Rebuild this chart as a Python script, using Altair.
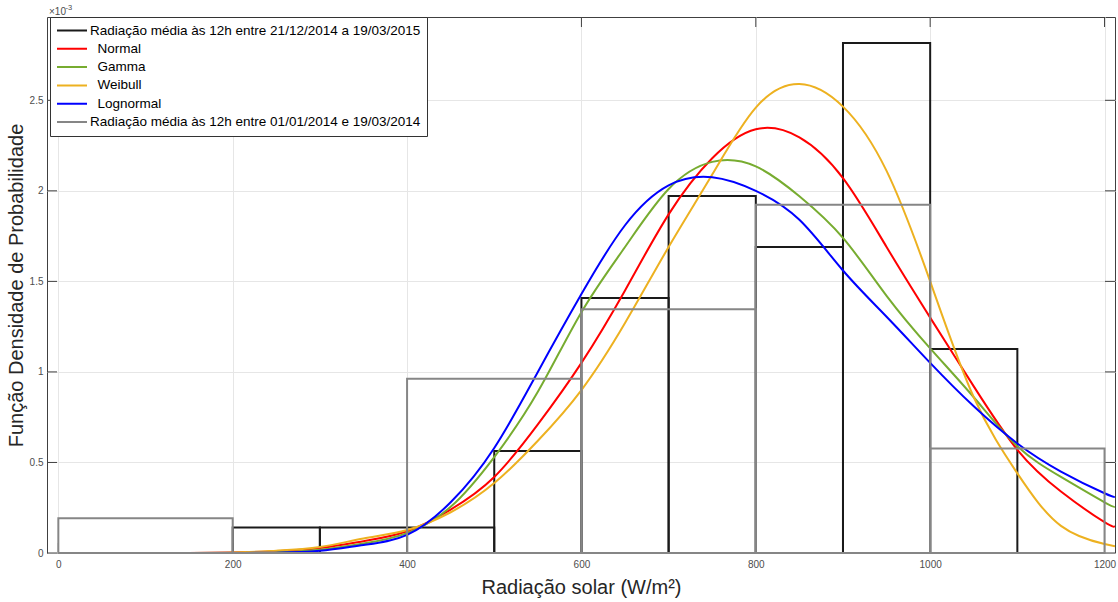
import altair as alt
import pandas as pd

# Densities are stored in units of 1e-3 (the axis carries the x10^-3 multiplier)

# Histogram, 21/12/2014 a 19/03/2015 (bins of 100 W/m2)
new_left = [200, 300, 400, 500, 600, 700, 800, 900, 1000]
new_right = [300, 400, 500, 600, 700, 800, 900, 1000, 1100]
new_density = [0.141, 0.141, 0.141, 0.563, 1.408, 1.972, 1.690, 2.817, 1.127]

# Histogram, 01/01/2014 e 19/03/2014 (bins of 200 W/m2)
old_left = [0, 200, 400, 600, 800, 1000]
old_right = [200, 400, 600, 800, 1000, 1200]
old_density = [0.192, 0.0, 0.962, 1.346, 1.923, 0.577]

# Fitted probability density curves
curve_x = [0, 50, 100, 150, 200, 250, 300, 350, 400, 450, 500, 550, 600,
           650, 700, 750, 800, 850, 900, 950, 1000, 1050, 1100, 1150, 1200, 1212]
normal_pdf = [0, 0, 0, 0, 0.003, 0.010, 0.027, 0.065, 0.120, 0.240, 0.420, 0.710, 1.050,
              1.450, 1.870, 2.180, 2.340, 2.295, 2.070, 1.690, 1.300, 0.920, 0.570, 0.340, 0.170, 0.150]
gamma_pdf = [0, 0, 0, 0, 0.001, 0.005, 0.018, 0.052, 0.110, 0.255, 0.530, 0.890, 1.330,
             1.690, 2.010, 2.160, 2.135, 1.970, 1.740, 1.420, 1.130, 0.860, 0.590, 0.420, 0.280, 0.255]
weibull_pdf = [0, 0, 0, 0, 0.002, 0.013, 0.033, 0.080, 0.127, 0.225, 0.386, 0.620, 0.900,
               1.270, 1.690, 2.090, 2.460, 2.590, 2.465, 2.110, 1.500, 0.860, 0.440, 0.150, 0.050, 0.037]
lognormal_pdf = [0, 0, 0, 0, 0, 0.002, 0.012, 0.044, 0.100, 0.280, 0.580, 1.000, 1.430,
                 1.810, 2.030, 2.075, 2.000, 1.840, 1.560, 1.305, 1.050, 0.810, 0.605, 0.450, 0.330, 0.310]

x_ticks = [0, 200, 400, 600, 800, 1000, 1200]
y_ticks = [0, 0.5, 1, 1.5, 2, 2.5]

# zero-width space keeps the indent of the fitted-curve labels from being trimmed
IND = "\u200b\u00a0\u00a0"
S_NEW = "Radiação média às 12h entre 21/12/2014 a 19/03/2015"
S_NORMAL = IND + "Normal"
S_GAMMA = IND + "Gamma"
S_WEIBULL = IND + "Weibull"
S_LOGN = IND + "Lognormal"
S_OLD = "Radiação média às 12h entre 01/01/2014 e 19/03/2014"
series_order = [S_NEW, S_NORMAL, S_GAMMA, S_WEIBULL, S_LOGN, S_OLD]
series_colors = ["#1a1a1a", "#ff0000", "#77ac30", "#edb120", "#0000ff", "#868686"]

hist_new = pd.DataFrame({"x0": new_left, "x1": new_right, "h": new_density, "serie": S_NEW})
hist_old = pd.DataFrame({"x0": old_left, "x1": old_right, "h": old_density, "serie": S_OLD})
curves = pd.concat([
    pd.DataFrame({"x0": curve_x, "h": vals, "serie": name})
    for name, vals in [(S_NORMAL, normal_pdf), (S_GAMMA, gamma_pdf),
                       (S_WEIBULL, weibull_pdf), (S_LOGN, lognormal_pdf)]
])
xt = pd.DataFrame({"x0": x_ticks})
yt = pd.DataFrame({"h": y_ticks})

W, H = 1068, 536
FONT = "Liberation Sans"

x_scale = alt.Scale(domain=[-13, 1212], nice=False, zero=False)
y_scale = alt.Scale(domain=[0, 2.96], nice=False, zero=False)
x_axis = alt.Axis(values=x_ticks, format="d", title="Radiação solar (W/m²)",
                  labelPadding=6, titlePadding=8)
y_axis = alt.Axis(values=y_ticks, format="~g", title="Função Densidade de Probabilidade",
                  labelPadding=4, titlePadding=3)


def X(field):
    return alt.X(f"{field}:Q", scale=x_scale, axis=x_axis)


def Y(field):
    return alt.Y(f"{field}:Q", scale=y_scale, axis=y_axis)


color = alt.Color(
    "serie:N",
    sort=series_order,
    scale=alt.Scale(domain=series_order, range=series_colors),
    legend=alt.Legend(
        orient="none", legendX=3, legendY=0, title=None,
        symbolType="stroke", symbolSize=900, symbolStrokeWidth=2,
        clipHeight=15, rowPadding=3.3, padding=6,
        labelFont=FONT, labelFontSize=13.5, labelColor="#000000",
        labelLimit=600, labelOffset=2,
        fillColor="white", strokeColor="#333333",
    ),
)

bars_new = alt.Chart(hist_new).mark_rect(filled=False, strokeWidth=2).encode(
    x=X("x0"), x2="x1:Q", y=Y("h"), y2=alt.datum(0), color=color
)
lines = alt.Chart(curves).mark_line(strokeWidth=2, interpolate="natural", clip=True).encode(
    x=X("x0"), y=Y("h"), color=color
)
bars_old = alt.Chart(hist_old).mark_rect(filled=False, strokeWidth=2).encode(
    x=X("x0"), x2="x1:Q", y=Y("h"), y2=alt.datum(0), color=color
)

TICK = 10
tick_col = "#404040"
ticks_left = alt.Chart(yt).mark_rule(color=tick_col).encode(
    y=Y("h"), x=alt.value(0), x2=alt.value(TICK))
ticks_right = alt.Chart(yt).mark_rule(color=tick_col).encode(
    y=Y("h"), x=alt.value(W - TICK), x2=alt.value(W))
ticks_bottom = alt.Chart(xt).mark_rule(color=tick_col).encode(
    x=X("x0"), y=alt.value(H), y2=alt.value(H - TICK))
ticks_top = alt.Chart(xt).mark_rule(color=tick_col).encode(
    x=X("x0"), y=alt.value(0), y2=alt.value(TICK))

mult = alt.Chart(pd.DataFrame({"t": ["×10"]})).mark_text(
    align="left", baseline="middle", fontSize=10, font=FONT, color="#4d4d4d"
).encode(text="t:N", x=alt.value(2), y=alt.value(-5))
mult_exp = alt.Chart(pd.DataFrame({"t": ["-3"]})).mark_text(
    align="left", baseline="middle", fontSize=7.5, font=FONT, color="#4d4d4d"
).encode(text="t:N", x=alt.value(18.5), y=alt.value(-9))

chart = alt.layer(
    ticks_bottom, ticks_top, ticks_left, ticks_right,
    bars_new, lines, bars_old, mult, mult_exp
).properties(
    width=W, height=H,
    autosize=alt.AutoSizeParams(type="none"),
    padding={"left": 47, "top": 17, "right": 3, "bottom": 49},
    background="white",
).configure_view(
    stroke="#404040", strokeWidth=1
).configure_axis(
    labelFont=FONT, labelFontSize=10, labelColor="#4d4d4d",
    titleFont=FONT, titleFontSize=20, titleFontWeight="normal", titleColor="#262626",
    ticks=False, domain=False, gridColor="#e6e6e6", gridWidth=1,
)

chart.save("out.html", embed_options={"renderer": "svg", "actions": False})
